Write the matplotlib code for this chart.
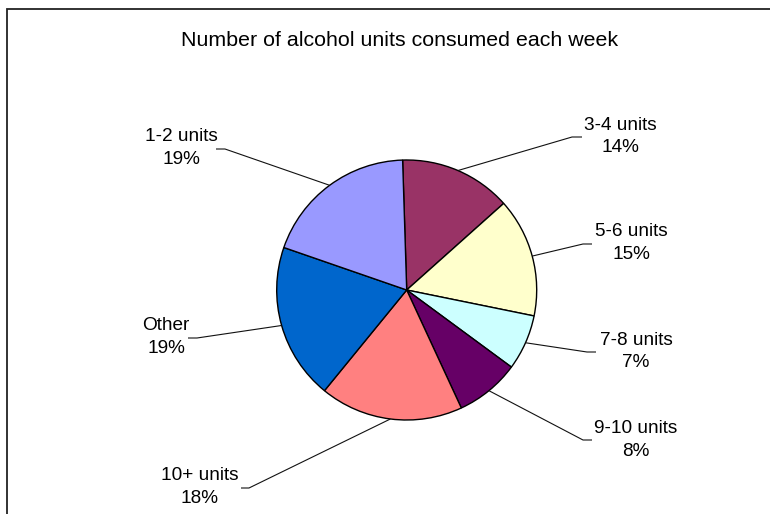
"""
Pie chart of weekly alcohol units (Excel-style)
"""

import matplotlib
matplotlib.use("Agg")
import numpy as np
import matplotlib.pyplot as plt
from matplotlib.patches import Rectangle

plt.rcParams["font.family"] = ["Liberation Sans", "DejaVu Sans"]

# data, clockwise from 12 o'clock
categories = ["3-4 units", "5-6 units", "7-8 units", "9-10 units",
              "10+ units", "Other", "1-2 units"]
shares = [13.9, 14.8, 6.9, 8.0, 17.8, 19.4, 19.2]
colors = ["#993366", "#FFFFCC", "#CCFFFF", "#660066",
          "#FF8080", "#0066CC", "#9999FF"]
title = "Number of alcohol units consumed each week"

# layout in pixels measured from the top left corner
W, H = 770, 514
pie_cx, pie_cy, pie_r = 406.7, 290.0, 130.0
# label centre (x, y) and horizontal leader piece (x_text_side, x_elbow, y)
label_pos = [(620, 136.5), (631, 243), (636, 351.5), (636, 440),
             (200, 487), (166, 337), (181, 148)]
leader_pos = [(582, 572, 137), (592, 583, 244), (596, 587, 352),
              (592, 583, 440), (241, 249, 488), (188, 197, 338),
              (216, 225, 149)]


def fy(y):
    # pixel row -> data y
    return H - y


fig = plt.figure(figsize=(7.7, 5.14), dpi=100)
ax = fig.add_axes([0, 0, 1, 1])

wedges, _ = ax.pie(
    shares,
    colors=colors,
    startangle=91.8,
    counterclock=False,
    center=(pie_cx, fy(pie_cy)),
    radius=pie_r,
    wedgeprops=dict(edgecolor="black", linewidth=1.0),
)

for w, cat, val, (tx, ty), (x0, x1, ly) in zip(
        wedges, categories, shares, label_pos, leader_pos):
    mid = np.deg2rad((w.theta1 + w.theta2) / 2.0)
    ex = pie_cx + pie_r * np.cos(mid)
    ey = fy(pie_cy) + pie_r * np.sin(mid)
    ax.plot([x0, x1, ex], [fy(ly), fy(ly), ey], color="#111111",
            linewidth=0.8, solid_capstyle="butt")
    ax.text(tx, fy(ty), f"{cat}\n{round(val):.0f}%", ha="center",
            va="center", fontsize=13.7, linespacing=1.42, color="black")

ax.text(400, fy(40), title, ha="center", va="center", fontsize=15.4,
        color="black")

# chart frame (runs past the right and bottom edges)
ax.add_patch(Rectangle((7.3, fy(600)), 900, 600 - 9.3, fill=False,
                       edgecolor="#222222", linewidth=1.3))

ax.set_xlim(0, W)
ax.set_ylim(0, H)
ax.set_aspect("equal")
ax.axis("off")

fig.savefig("out.png", dpi=100)
